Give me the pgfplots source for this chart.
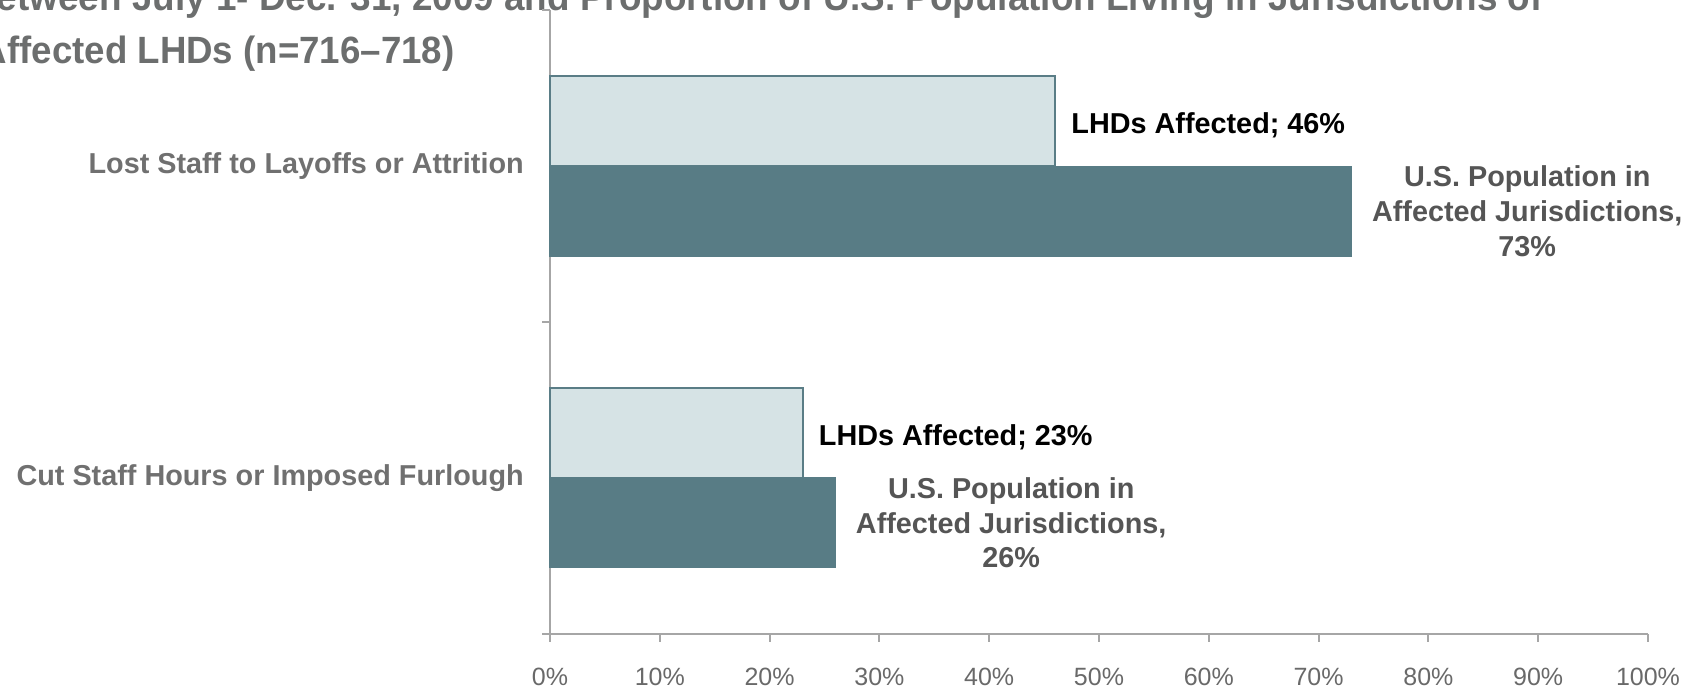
\documentclass[border=0pt]{standalone}
\usepackage{fontspec}
\setmainfont{Liberation Sans}
\usepackage{graphicx}
\usepackage{pgfplots}
\pgfplotsset{compat=1.18}
\definecolor{lightbar}{RGB}{214,227,229}
\definecolor{barline}{RGB}{90,125,134}
\definecolor{darkbar}{RGB}{88,124,133}
\definecolor{axisgray}{RGB}{166,166,166}
\definecolor{tickgray}{RGB}{105,105,105}
\definecolor{catgray}{RGB}{112,112,112}
\definecolor{labgray}{RGB}{85,85,85}
\definecolor{titlegray}{RGB}{108,110,110}
\begin{document}
\begin{tikzpicture}
\path[use as bounding box, clip] (0pt,0pt) rectangle (849pt,345.5pt);
\node[anchor=base east, font=\fontsize{19}{22}\selectfont\bfseries, text=titlegray, inner sep=0pt] at (771.5pt,340pt) {\scalebox{0.97}[1]{Between July 1- Dec. 31, 2009 and Proportion of U.S. Population Living in Jurisdictions of}};
\node[anchor=base east, font=\fontsize{19}{22}\selectfont\bfseries, text=titlegray, inner sep=0pt] at (227.5pt,313.5pt) {\scalebox{0.965}[1]{Affected LHDs (n=716–718)}};
\begin{axis}[
  at={(275pt,28.75pt)}, anchor=south west,
  scale only axis, width=549pt, height=311.5pt,
  xbar, bar width=45pt,
  xmin=0, xmax=100, ymin=0, ymax=2,
  axis x line*=bottom, axis y line*=left,
  axis line style={axisgray, line width=1pt},
  tick style={axisgray, line width=1pt},
  tick align=outside, major tick length=4pt,
  xtick={0,10,...,100},
  xticklabels={0\%,10\%,20\%,30\%,40\%,50\%,60\%,70\%,80\%,90\%,100\%},
  x tick label style={font=\fontsize{12.5}{15}\selectfont, text=tickgray, yshift=-9.8pt},
  ytick={0,1,2}, yticklabels={},
  extra y ticks={0.5,1.5},
  extra y tick labels={Cut Staff Hours or Imposed Furlough, Lost Staff to Layoffs or Attrition},
  extra y tick style={major tick length=0pt, yticklabel style={font=\fontsize{14.4}{17}\selectfont\bfseries, text=catgray, xshift=-9.6pt}},
  /pgf/number format/assume math mode=true,
  clip=false,
]
\addplot[fill=lightbar, draw=barline, line width=1pt, bar shift=22.5pt, point meta=x,
  nodes near coords={LHDs Affected; \pgfmathprintnumber{\pgfplotspointmeta}\%},
  nodes near coords style={anchor=west, inner sep=0pt, xshift=7.7pt, yshift=-2.2pt, font=\fontsize{14.4}{17.35}\selectfont\bfseries, text=black}]
  coordinates {(23,0.5) (46,1.5)};
\addplot[fill=darkbar, draw=darkbar, line width=0.5pt, bar shift=-22.5pt, point meta=x,
  nodes near coords={U.S. Population in\\Affected Jurisdictions,\\\pgfmathprintnumber{\pgfplotspointmeta}\%},
  nodes near coords style={anchor=west, inner sep=0pt, xshift=10pt, align=center, font=\fontsize{14.4}{17.35}\selectfont\bfseries, text=labgray}]
  coordinates {(26,0.5) (73,1.5)};
\end{axis}
\end{tikzpicture}
\end{document}
